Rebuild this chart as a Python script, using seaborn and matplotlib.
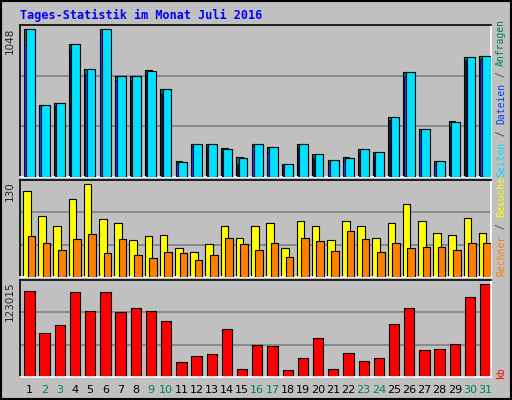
import numpy as np
import pandas as pd
import seaborn as sns
import matplotlib.pyplot as plt
from matplotlib.patches import Rectangle

# Daily values, July 2016
days = list(range(1, 32))
weekend_days = [2, 3, 9, 10, 16, 17, 23, 24, 30, 31]
hits = [1048, 512, 526, 948, 769, 1048, 719, 719, 762, 626, 112, 233, 233, 207, 143, 233,
        214, 90, 233, 162, 119, 143, 198, 179, 426, 743, 341, 112, 398, 855, 862]
files = [1048, 512, 526, 948, 769, 1048, 719, 719, 755, 626, 105, 233, 233, 200, 136, 233,
         214, 90, 233, 162, 119, 136, 198, 179, 426, 743, 341, 112, 390, 855, 862]
pages = [936, 484, 505, 905, 729, 1019, 691, 691, 734, 598, 90, 214, 214, 186, 90, 221,
         179, 79, 207, 133, 90, 114, 179, 150, 405, 719, 305, 86, 355, 834, 841]
visits = [120, 86, 72, 109, 130, 81, 76, 52, 58, 59, 40, 35, 47, 72, 55, 72,
          76, 41, 78, 71, 52, 78, 72, 55, 76, 102, 79, 62, 59, 83, 62]
sites = [58, 48, 38, 54, 61, 34, 54, 31, 27, 35, 33, 24, 31, 55, 47, 38,
         48, 28, 55, 51, 37, 64, 54, 35, 48, 40, 42, 42, 38, 48, 48]
kbytes = [113600, 58400, 69100, 112200, 88000, 112200, 86600, 92000, 88000, 74500, 19300,
          27400, 30100, 63800, 11200, 42200, 40900, 9900, 24700, 51600, 11200, 31400,
          20700, 24700, 70500, 90700, 35500, 36800, 43500, 105500, 123015]

BG = '#C0C0C0'
sns.set_style('white')
plt.rcParams['font.family'] = ['DejaVu Sans Mono']

fig = plt.figure(figsize=(5.12, 4.0), dpi=100, facecolor=BG)
fig.patches.append(Rectangle((0.002, 0.002), 0.996, 0.996, transform=fig.transFigure,
                             fill=False, ec='black', lw=1.5))

x = np.arange(len(days))
left, width = 0.039, 0.92
ax1 = fig.add_axes([left, 0.5575, width, 0.38])
ax2 = fig.add_axes([left, 0.3075, width, 0.2425])
ax3 = fig.add_axes([left, 0.0575, width, 0.2425])

def style(ax, top):
    ax.set_facecolor(BG)
    ax.set_xlim(-0.5, len(days) - 0.5)
    ax.set_ylim(0, top)
    for f in (1 / 3, 2 / 3):
        ax.axhline(top * f, color='#808080', lw=1.2, zorder=0)
    ax.set_xticks([])
    ax.set_yticks([])
    for s in ('left', 'top'):
        ax.spines[s].set_color('black')
    for s in ('right', 'bottom'):
        ax.spines[s].set_color('white')
    for s in ax.spines.values():
        s.set_linewidth(1.2)

# Top panel: Anfragen / Dateien / Seiten
style(ax1, max(hits) * 1.03)
ax1.bar(x - 0.05, hits, width=0.42, color='#00805C', ec='black', lw=0.8, zorder=2)
ax1.bar(x + 0.18, files, width=0.58, color='#00E0FF', ec='black', lw=0.8, zorder=3)
ax1.bar(x - 0.17, pages, width=0.1, color='#0040FF', ec='black', lw=0.5, zorder=4)

# Middle panel: Besuche / Rechner
style(ax2, max(visits) * 1.047)
ax2.bar(x - 0.05, visits, width=0.5, color='#FFFF00', ec='black', lw=0.8, zorder=2)
ax2.bar(x + 0.25, sites, width=0.5, color='#FF8000', ec='black', lw=0.8, zorder=3)

# Bottom panel: kb
df = pd.DataFrame({'day': x + 0.12, 'kb': kbytes})
sns.barplot(data=df, x='day', y='kb', color='#FF0000', width=0.68, saturation=1,
            edgecolor='black', linewidth=0.8, native_scale=True, ax=ax3, zorder=2)
style(ax3, max(kbytes) * 1.044)
ax3.set_xlabel('')
ax3.set_ylabel('')

# Day labels
for i, d in enumerate(days):
    ax3.text(i + 0.12, -0.13, str(d), transform=ax3.get_xaxis_transform(), ha='center',
             va='center', fontsize=8, family='DejaVu Sans',
             color='#00805C' if d in weekend_days else 'black')

# Max value labels
for ax, v in ((ax1, max(hits)), (ax2, max(visits)), (ax3, max(kbytes))):
    ax.text(-0.012, 0.985, str(v), transform=ax.transAxes, rotation=90, ha='right', va='top',
            fontsize=7.5, family='DejaVu Sans')

fig.text(0.039, 0.962, 'Tages-Statistik im Monat Juli 2016', color='#0000FF',
         fontsize=8.5, fontweight='bold', va='center')

# Right-side legend, built bottom-up
fs = 7
adv = 0.602 * fs * 100 / 72 / 400

def column(y0, pieces):
    y = y0
    for txt, col in pieces:
        fig.text(0.979, y, txt, rotation=90, color=col, fontsize=fs, ha='left',
                 va='center', rotation_mode='anchor')
        y += len(txt) * adv

column(1 - 378 / 400, [('kb', '#FF0000')])
column(1 - 276 / 400, [('Rechner', '#FF8000'), (' / ', '#404040'), ('Besuche', '#FFFF00')])
column(1 - 177 / 400, [('Seiten', '#00E0FF'), (' / ', '#404040'), ('Dateien', '#0040FF'),
                       (' / ', '#404040'), ('Anfragen', '#00805C')])

fig.savefig('out.png', dpi=100, facecolor=BG)
